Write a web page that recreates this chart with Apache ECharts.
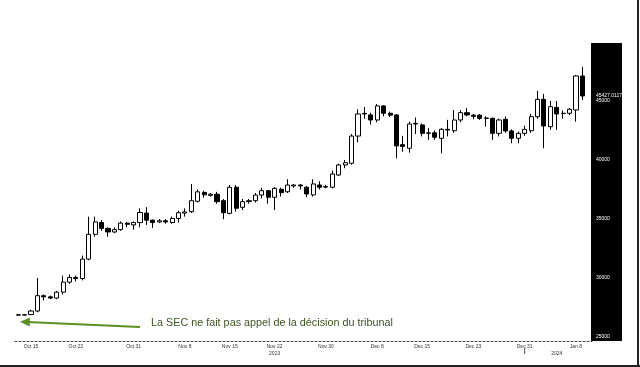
<!DOCTYPE html>
<html>
<head>
<meta charset="utf-8">
<script src="https://cdn.jsdelivr.net/npm/echarts@6/dist/echarts.min.js"></script>
<style>
html,body{margin:0;padding:0;background:#fff;}
#chart{width:640px;height:367px;}
</style>
</head>
<body>
<div id="chart"></div>
<script>
// ---- data ----
var dates = ["Oct 13","Oct 14","Oct 15","Oct 16","Oct 17","Oct 18","Oct 19","Oct 20","Oct 21","Oct 22","Oct 23","Oct 24","Oct 25","Oct 26","Oct 27","Oct 28","Oct 29","Oct 30","Oct 31",
"Nov 1","Nov 2","Nov 3","Nov 4","Nov 5","Nov 6","Nov 7","Nov 8","Nov 9","Nov 10","Nov 11","Nov 12","Nov 13","Nov 14","Nov 15","Nov 16","Nov 17","Nov 18","Nov 19","Nov 20","Nov 21","Nov 22","Nov 23","Nov 24","Nov 25","Nov 26","Nov 27","Nov 28","Nov 29","Nov 30",
"Dec 1","Dec 2","Dec 3","Dec 4","Dec 5","Dec 6","Dec 7","Dec 8","Dec 9","Dec 10","Dec 11","Dec 12","Dec 13","Dec 14","Dec 15","Dec 16","Dec 17","Dec 18","Dec 19","Dec 20","Dec 21","Dec 22","Dec 23","Dec 24","Dec 25","Dec 26","Dec 27","Dec 28","Dec 29","Dec 30","Dec 31",
"Jan 1","Jan 2","Jan 3","Jan 4","Jan 5","Jan 6","Jan 7","Jan 8","Jan 9","Jan 10"];
var opens  = [26850,26880,26900,27200,28500,28400,28300,28800,29650,30050,29950,31600,33700,34700,34200,33900,34100,34650,34500,
34700,35500,34900,34750,34850,34700,35050,35500,35620,36500,37250,37000,37100,36550,35480,37690,35990,36470,36550,37030,37400,36840,37520,37310,37800,37880,37690,37040,37880,37700,
37690,38730,39580,39720,42030,43950,43820,43390,44580,43960,43820,41300,40990,43050,42970,42260,42300,41840,42600,42480,43390,44010,43800,43800,43530,43530,42260,43450,42460,41840,42260,
42480,43670,45140,42820,44460,43960,43960,44240,47120];
var closes = [26880,26860,27200,28500,28400,28300,28800,29650,30050,29950,31600,33700,34750,34200,33900,34100,34650,34550,34700,
35550,34900,34700,34850,34750,35050,35530,35600,36550,37300,37050,37100,36470,35530,37690,35910,36470,36550,37030,37400,36840,37600,37230,37880,37880,37800,37120,37970,37690,37750,
38810,39580,39770,42030,43900,43900,43390,44580,43960,43800,41190,41150,43050,43100,42260,42300,41930,42600,42540,43390,44010,43820,43700,43530,43560,42260,43390,42460,41840,42260,42600,
43670,45140,42880,44520,43900,43940,44300,47120,45427.0117];
var lows   = [26800,26820,26850,27100,28100,28200,28200,28600,29500,29700,29800,31500,33500,34000,33500,33800,34000,34300,34100,
34300,34500,34250,34650,34600,34600,34700,35200,35500,36400,36800,36900,36300,34980,35400,35630,35750,36300,36400,36750,36300,35760,36900,37200,37650,37500,36840,36900,37500,37600,
37600,38650,39300,39600,41500,43500,43000,43200,43700,43650,40140,40700,40620,42200,42000,41700,41700,40570,42000,42300,43200,43700,43450,43400,42820,41700,42000,42300,41420,41420,42050,
42300,43500,40990,42550,42540,43500,43800,43250,45080];
var highs  = [26950,26920,27300,30000,28600,28500,28900,30200,30300,30200,31900,35200,35200,34900,34300,34300,34800,34750,34800,
35900,36000,34950,35000,35000,35200,35700,35900,37970,37500,37400,37200,37300,36700,37880,37880,36700,36700,37200,37650,37450,37700,37650,38370,37950,37950,37800,38370,38200,37900,
39100,39700,40000,42200,44300,44500,44000,44750,44650,44100,43900,42050,43250,43600,43100,42700,42500,42700,43400,44240,44240,44410,43900,43900,43700,43600,43500,43700,42600,42400,42900,
43900,45870,45600,45000,45000,44200,44400,47200,47900];
var tickDates = ["Oct 15","Oct 22","Oct 31","Nov 8","Nov 15","Nov 22","Nov 30","Dec 8","Dec 15","Dec 23","Dec 31","Jan 8"];
var yearDates = ["Nov 22","Jan 5"];
var yearNames = ["2023","2024"];
var yearBreakDate = "Dec 31";
var yTicks = [25000,30000,35000,40000,45000];
var lastPriceLabel = "45427.0117";
var annotation = "La SEC ne fait pas appel de la décision du tribunal";

// ---- build ----
var ohlc = dates.map(function(d,i){
  if (i >= opens.length) return '-';
  return [opens[i], closes[i], lows[i], highs[i]];
});

var chart = echarts.init(document.getElementById('chart'), null, {renderer:'canvas'});
var gridLeft = 15, gridRight = 48, gridTop = 43, gridBottom = 26;

var option = {
  animation: false,
  backgroundColor: '#fff',
  grid: {left: gridLeft, right: gridRight, top: gridTop, bottom: gridBottom},
  xAxis: {
    type: 'category',
    data: dates,
    boundaryGap: true,
    axisLine: {show: true, lineStyle: {color: '#444', width: 1, type: [2,2]}},
    axisTick: {show: false},
    splitLine: {show: false},
    axisLabel: {
      interval: function(idx, val){ return tickDates.indexOf(val) >= 0 || yearDates.indexOf(val) >= 0; },
      formatter: function(val){
        var s = tickDates.indexOf(val) >= 0 ? val : '';
        var yi = yearDates.indexOf(val);
        if (yi >= 0) s = s + '\n' + yearNames[yi];
        return s;
      },
      color: '#333', fontSize: 5, lineHeight: 7, margin: 2,
      fontFamily: 'Liberation Sans'
    }
  },
  yAxis: {
    type: 'value',
    position: 'right',
    zlevel: 1,
    min: 24660, max: 49915,
    axisLine: {show: false},
    axisTick: {show: false},
    splitLine: {show: false},
    axisLabel: {
      customValues: yTicks,
      color: '#fff', fontSize: 5, margin: 4,
      fontFamily: 'Liberation Sans',
      formatter: function(v){ return String(v); }
    }
  },
  series: [{
    type: 'candlestick',
    zlevel: 1,
    data: ohlc,
    barWidth: 4.6,
    itemStyle: {color: '#fff', color0: '#000', borderColor: '#000', borderColor0: '#000', borderWidth: 1},
    markLine: {
      silent: true, symbol: 'none',
      lineStyle: {color: 'rgba(0,0,0,0)', width: 0, type: 'solid'},
      label: {show: true, position: 'end', distance: 4, color: '#fff', fontSize: 5, fontFamily: 'Liberation Sans',
        formatter: function(){ return lastPriceLabel; }},
      emphasis: {disabled: true},
      data: [{yAxis: closes[closes.length-1]}]
    }
  }]
};
chart.setOption(option);

// decorative elements
var W = 640, H = 367;
var bandX = W - gridRight - 1;
var breakX = chart.convertToPixel({xAxisIndex: 0}, yearBreakDate);
chart.setOption({
  graphic: [
    {type: 'rect', zlevel: 0, z: 0, shape: {x: bandX, y: gridTop, width: 31, height: H - gridBottom - gridTop}, style: {fill: '#000'}, silent: true},
    {type: 'line', shape: {x1: breakX, y1: 348, x2: breakX, y2: 354}, style: {stroke: '#555', lineWidth: 1}},
    {type: 'line', shape: {x1: 140, y1: 327, x2: 27, y2: 322}, style: {stroke: '#5b8f22', lineWidth: 2}},
    {type: 'polygon', shape: {points: [[20, 321.7], [30, 317.6], [29.6, 326.6]]}, style: {fill: '#5b8f22'}},
    {type: 'text', x: 151, y: 323, style: {text: annotation, fill: '#3b5323', font: '10.8px "Liberation Sans"', textVerticalAlign: 'middle'}},
    {type: 'rect', shape: {x: 637, y: 0, width: 2, height: H}, style: {fill: '#222'}},
    {type: 'rect', shape: {x: 0, y: 365, width: W, height: 2}, style: {fill: '#222'}}
  ]
});
</script>
</body>
</html>
